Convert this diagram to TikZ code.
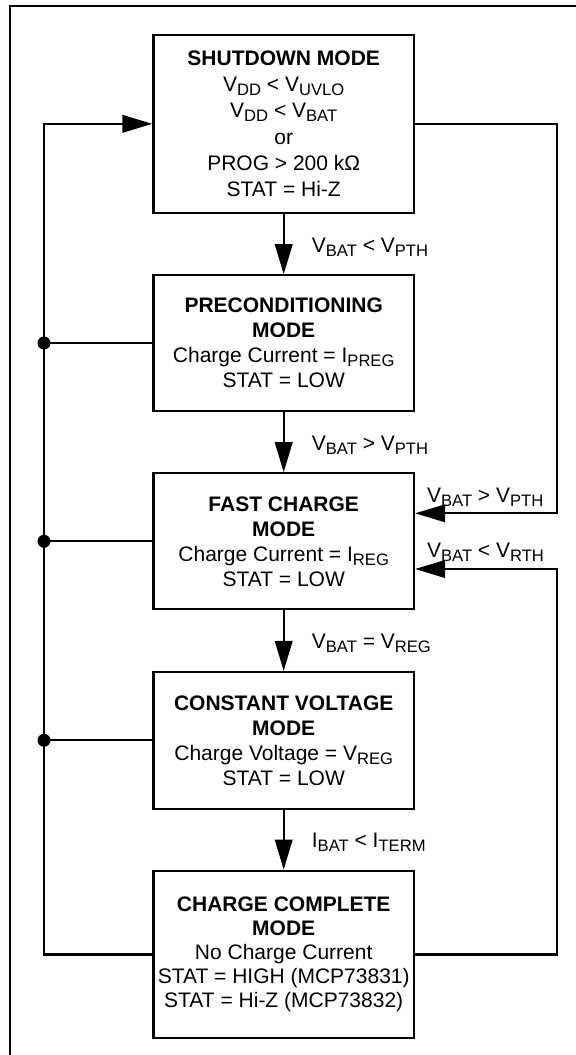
\documentclass[tikz,border=0pt]{standalone}
\usepackage{fontspec}
\setmainfont{Liberation Sans}
\usetikzlibrary{arrows.meta,calc}
\newcommand{\lowsub}[1]{\raisebox{-2pt}{\fontsize{8.3}{9}\selectfont #1}}
\begin{document}
\begin{tikzpicture}[x=0.5pt,y=-0.5pt,
  box/.style={draw, line width=1.1pt, minimum width=130.3pt, align=center, inner sep=0pt,
    font=\fontsize{10.5}{12.5}\selectfont},
  wire/.style={line width=1.1pt},
  arr/.style={wire, -{Triangle[length=15pt,width=8.75pt]}},
  lbl/.style={anchor=west, inner sep=0pt, font=\fontsize{10.5}{12.6}\selectfont},
  dot/.style={circle, fill, inner sep=0pt, minimum size=6.5pt}]
\useasboundingbox (0,0) rectangle (576,1055);
% outer frame
\draw[wire] (10,1060) -- (10,5.7) -- (580,5.7);
% boxes
\node[box, minimum height=88.8pt, font=\fontsize{10.5}{13.1}\selectfont] (b1) at (283.7,123.85)
  {\textbf{SHUTDOWN MODE}\\V\lowsub{DD} < V\lowsub{UVLO}\\V\lowsub{DD} < V\lowsub{BAT}\\or\\PROG > 200 kΩ\\STAT = Hi-Z};
\node[box, minimum height=67.7pt] (b2) at (283.7,343)
  {\textbf{PRECONDITIONING}\\\textbf{MODE}\\Charge Current = I\lowsub{PREG}\\STAT = LOW};
\node[box, minimum height=68pt] (b3) at (283.7,541.3)
  {\textbf{FAST CHARGE}\\\textbf{MODE}\\Charge Current = I\lowsub{REG}\\STAT = LOW};
\node[box, minimum height=68.3pt] (b4) at (283.7,740.3)
  {\textbf{CONSTANT VOLTAGE}\\\textbf{MODE}\\Charge Voltage = V\lowsub{REG}\\STAT = LOW};
\node[box, minimum height=83.8pt, font=\fontsize{10.5}{12}\selectfont] (b5) at (283.7,954.5)
  {\textbf{CHARGE COMPLETE}\\\textbf{MODE}\\No Charge Current\\STAT = HIGH (MCP73831)\\STAT = Hi-Z (MCP73832)};
% downward transitions
\draw[arr] (b1.south) -- (b2.north);
\draw[arr] (b2.south) -- (b3.north);
\draw[arr] (b3.south) -- (b4.north);
\draw[arr] (b4.south) -- (b5.north);
\node[lbl] (l1) at (311.5,247) {V\lowsub{BAT} < V\lowsub{PTH}};
\node[lbl] (l2) at (311.5,445) {V\lowsub{BAT} > V\lowsub{PTH}};
\node[lbl] (l3) at (311.5,643) {V\lowsub{BAT} = V\lowsub{REG}};
\node[lbl] (l4) at (311.5,842) {I\lowsub{BAT} < I\lowsub{TERM}};
% left bus
\path (b1.west) ++(-108.3,0) coordinate (lt);
\draw[arr] (b5.west) -| (lt) -- (b1.west);
\draw[wire] (b2.west) -- (lt |- b2.west) node[dot] (d2) {};
\draw[wire] (b3.west) -- (lt |- b3.west) node[dot] (d3) {};
\draw[wire] (b4.west) -- (lt |- b4.west) node[dot] (d4) {};
% right bus
\path (b1.east) ++(141.7,0) coordinate (rt);
\coordinate (i1) at ($(b3.east)+(0,-28)$);
\coordinate (i2) at ($(b3.east)+(0,27.7)$);
\draw[arr] (b1.east) -- (rt) |- (i1);
\draw[arr] (b5.east) -| (rt |- i2) -- (i2);
\node[lbl] (r1) at (426.7,497) {V\lowsub{BAT} > V\lowsub{PTH}};
\node[lbl] (r2) at (426.7,552) {V\lowsub{BAT} < V\lowsub{RTH}};
\end{tikzpicture}
\end{document}
